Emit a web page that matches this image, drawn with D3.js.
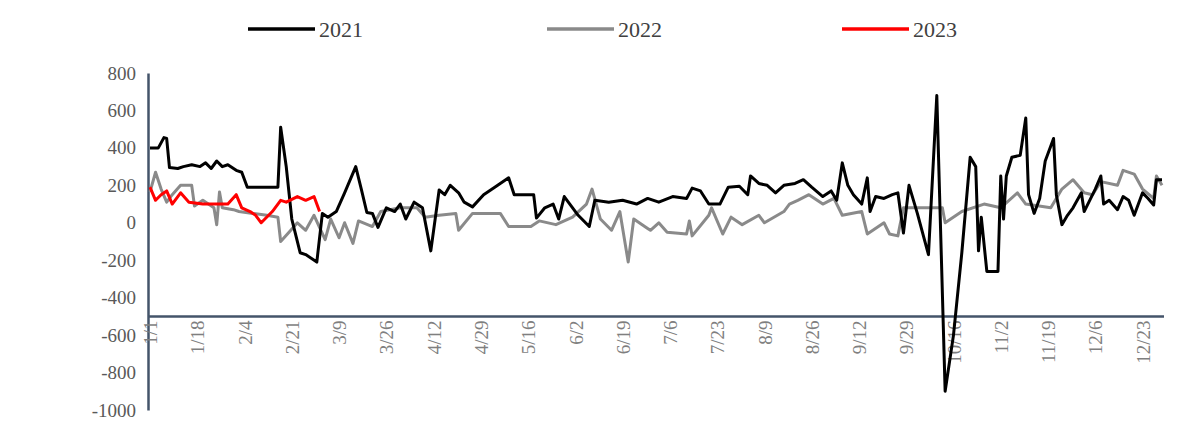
<!DOCTYPE html><html><head><meta charset="utf-8"><script src="https://cdn.jsdelivr.net/npm/d3@7"></script>
<style>body{margin:0;background:#fff}</style></head><body><svg id="c" width="1200" height="440"></svg><script>
const seriesNames=["2021","2022","2023"];
const seriesColors=["#000000","#8a8a8a","#ff0000"];
const yTicks=[800,600,400,200,0,-200,-400,-600,-800,-1000];
const xTickLabels=["1/1","1/18","2/4","2/21","3/9","3/26","4/12","4/29","5/16","6/2","6/19","7/6","7/23","8/9","8/26","9/12","9/29","10/16","11/2","11/19","12/6","12/23"];
const s2021=[[0,400],[3,400],[5,455],[6,450],[7,295],[10,290],[12,300],[15,310],[18,300],[20,320],[22,290],[24,330],[26,300],[28,310],[31,280],[33,270],[35,190],[46,190],[47,510],[49,300],[51,20],[54,-160],[56,-170],[60,-210],[62,50],[64,30],[67,60],[70,160],[74,300],[76,180],[78,55],[80,50],[82,-25],[85,80],[88,60],[90,100],[92,20],[95,110],[98,80],[101,-150],[104,175],[106,150],[108,200],[111,160],[113,110],[116,85],[120,150],[124,190],[129,240],[131,150],[138,150],[139,25],[142,80],[145,100],[147,20],[149,140],[151,100],[154,40],[158,-20],[160,120],[165,110],[170,120],[175,100],[179,130],[183,110],[188,140],[193,130],[195,185],[198,170],[201,100],[205,100],[208,190],[212,195],[215,150],[216,250],[219,210],[222,200],[225,160],[228,200],[232,210],[235,230],[238,190],[242,140],[245,170],[247,120],[249,320],[251,200],[253,150],[256,100],[258,240],[259,60],[261,140],[264,130],[267,150],[269,160],[271,-55],[273,200],[276,50],[280,-170],[283,680],[286,-900],[289,-600],[292,-160],[295,350],[297,300],[298,-150],[299,30],[301,-260],[305,-260],[306,250],[307,20],[308,250],[310,350],[313,360],[315,560],[316,150],[318,50],[320,130],[322,330],[325,450],[326,150],[328,-10],[330,40],[332,80],[335,160],[336,60],[338,120],[340,180],[342,250],[343,100],[345,120],[348,70],[350,140],[352,120],[354,40],[357,160],[359,130],[361,95],[362,230],[364,230]];
const s2022=[[0,165],[2,270],[4,180],[6,110],[8,150],[11,200],[15,200],[16,90],[19,120],[23,80],[24,-10],[25,165],[26,80],[30,70],[32,60],[37,50],[42,40],[46,30],[47,-100],[50,-50],[53,0],[56,-40],[59,40],[63,-90],[65,20],[68,-80],[70,0],[73,-110],[75,10],[80,-20],[83,60],[90,80],[96,80],[99,30],[104,40],[110,50],[111,-40],[116,50],[126,50],[129,-20],[137,-20],[140,10],[146,-10],[152,30],[157,100],[159,180],[162,20],[166,-40],[169,60],[172,-210],[174,20],[179,-30],[180,-40],[183,0],[186,-50],[193,-60],[194,10],[195,-70],[201,40],[202,80],[206,-60],[209,30],[213,-10],[219,40],[221,0],[228,60],[230,100],[233,120],[237,150],[242,100],[246,130],[249,40],[256,60],[258,-60],[264,0],[266,-60],[269,-70],[271,80],[276,80],[285,80],[286,0],[292,60],[300,100],[306,80],[312,160],[315,100],[324,80],[328,180],[332,230],[336,160],[339,150],[342,220],[348,200],[350,280],[354,260],[357,180],[361,130],[362,250],[364,200]];
const s2023=[[0,190],[2,120],[4,150],[6,170],[8,100],[11,160],[14,110],[19,100],[28,100],[31,150],[33,80],[36,60],[38,40],[40,0],[44,60],[47,120],[49,110],[53,140],[56,120],[59,140],[61,60]];
const svg=d3.select("#c");
const x=d3.scaleLinear().domain([0,364]).range([150,1162]);
const y=d3.scaleLinear().domain([-1000,800]).range([410,73]);
const font="'Liberation Serif','DejaVu Serif',serif";
const ya=svg.append("g").attr("transform","translate(148,0)").call(d3.axisLeft(y).tickValues(yTicks).tickSize(0).tickPadding(12).tickFormat(d=>String(d)));
ya.select(".domain").attr("stroke","#44546a").attr("stroke-width",2.5);
ya.selectAll("text").attr("font-family",font).attr("font-size",19).attr("fill","#595959");
const xa=svg.append("g").attr("transform",`translate(0,${y(-500)})`).call(d3.axisBottom(x).tickValues(d3.range(0,364,17)).tickSize(0).tickFormat((d,i)=>xTickLabels[i]));
xa.select(".domain").attr("stroke","#44546a").attr("stroke-width",2.5).attr("d",`M148,0H1164`);
xa.selectAll("text").attr("font-family",font).attr("font-size",19).attr("fill","#7f7f7f")
 .attr("transform","rotate(-90)").attr("text-anchor","end").attr("dy","0.35em").attr("x",-4).attr("y",0);
const line=d3.line().x(d=>x(d[0])).y(d=>y(d[1]));
[s2022,s2021,s2023].forEach((s,i)=>{
 const ci=[1,0,2][i];
 svg.append("path").datum(s).attr("d",line).attr("fill","none").attr("stroke",seriesColors[ci]).attr("stroke-width",3).attr("stroke-linejoin","round");
});
const lx=[248,547,842];
seriesNames.forEach((n,i)=>{
 svg.append("line").attr("x1",lx[i]).attr("x2",lx[i]+67).attr("y1",29).attr("y2",29).attr("stroke",seriesColors[i]).attr("stroke-width",3.5);
 svg.append("text").attr("x",lx[i]+71).attr("y",37).text(n).attr("font-family",font).attr("font-size",22).attr("fill","#404040");
});
</script></body></html>
